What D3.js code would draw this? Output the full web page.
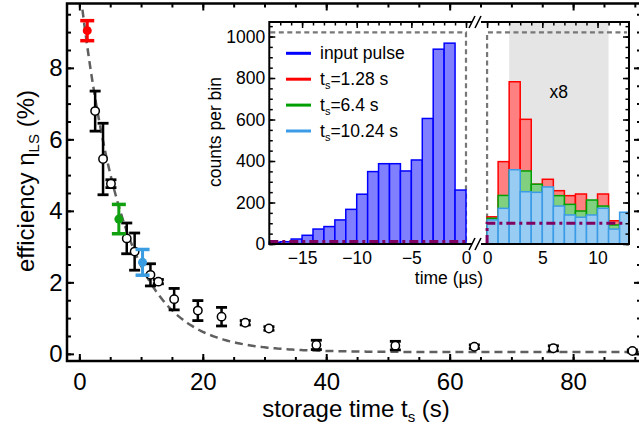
<!DOCTYPE html>
<html>
<head>
<meta charset="utf-8">
<script src="https://cdn.jsdelivr.net/npm/d3@7"></script>
<style>
  body { margin: 0; background: #fff; }
  svg { display: block; font-family: "Liberation Sans", Arial, sans-serif; }
</style>
</head>
<body>
<svg id="chart" width="639" height="430"></svg>
<script>
// ---- main panel: retrieval efficiency vs storage time ----
const storageTimes  = [2.56, 3.84, 5.12, 7.68, 8.96, 11.52, 12.8, 15.36, 19.2, 23.04, 26.88, 30.72, 38.4, 51.2, 64, 76.8, 89.6];
const efficiency    = [6.79, 5.45, 4.76, 3.23, 2.86, 2.21, 2.02, 1.53, 1.21, 1.04, 0.87, 0.71, 0.25, 0.23, 0.20, 0.155, 0.08];
const efficiencyErr = [0.56, 1.00, 0.11, 0.43, 0.52, 0.31, 0.06, 0.30, 0.28, 0.26, 0.06, 0.05, 0.13, 0.12, 0.05, 0.07, 0.03];

// storage times whose time traces are shown in the inset
const markedTimes      = [1.28, 6.4, 10.24];
const markedEfficiency = [9.04, 3.77, 2.56];
const markedErr        = [0.28, 0.41, 0.36];

// exponential decay fit: A * exp(-t / tau) + offset
const fitAmplitude = 10.3;
const fitTau = 6.9;
const fitOffset = 0.05;

const xTickValues = [0, 20, 40, 60, 80];
const yTickValues = [0, 2, 4, 6, 8];

// ---- inset: photon arrival-time histograms ----
const inputBinStarts = [-18, -17, -16, -15, -14, -13, -12, -11, -10, -9, -8, -7, -6, -5, -4, -3, -2, -1];
const inputCounts    = [8, 11, 24, 42, 72, 84, 116, 167, 240, 349, 387, 387, 352, 405, 605, 939, 968, 260];

const retrievedBinStarts = [0, 1, 2, 3, 4, 5, 6, 7, 8, 9, 10, 11, 12];
const counts128  = [131, 397, 782, 601, 288, 312, 257, 233, 241, 205, 241, 112, 100];
const counts64   = [124, 234, 350, 352, 288, 270, 233, 191, 159, 212, 183, 92, 110];
const counts1024 = [116, 172, 358, 252, 249, 275, 183, 140, 129, 140, 172, 72, 153];

const backgroundLevel = 12.5;      // dark-count level, input side
const backgroundScaled = 100;      // same level, scaled x8
const windowLevel = 1020;          // dashed reference window height
const scaledWindow = [2, 11];      // interval scaled by 8
const scaleLabel = "x8";

const insetYTicks = [0, 200, 400, 600, 800, 1000];
const inputTimeTicks = [-15, -10, -5, 0];
const retrievedTimeTicks = [0, 5, 10];

const legendNames = [["input pulse", null, null], ["t", "s", "=1.28 s"], ["t", "s", "=6.4 s"], ["t", "s", "=10.24 s"]];

const colors = {
  input: "#0000ff", inputFill: "#8080ff",
  red: "#ff0000", redFill: "#ff8080",
  green: "#00a000", greenFill: "#80d080",
  blue: "#3b9be6", blueFill: "#99ccf2",
  markRed: "#ff0000", markGreen: "#10a010", markBlue: "#3a9de2",
  bg: "#800060", dashed: "#777777"
};

const svg = d3.select("#chart");

// ================= main panel =================
const x = d3.scaleLinear().domain([-2, 91]).range([67, 641]);
const y = d3.scaleLinear().domain([-0.2, 9.8]).range([361, 3.5]);

const main = svg.append("g");

// fit curve
const fitT = d3.range(-2, 91.01, 0.25);
const fitLine = d3.line()
  .x(t => x(t))
  .y(t => y(fitAmplitude * Math.exp(-t / fitTau) + fitOffset));
main.append("path")
  .datum(fitT.filter(t => fitAmplitude * Math.exp(-t / fitTau) + fitOffset <= 9.8))
  .attr("d", fitLine)
  .attr("fill", "none")
  .attr("stroke", "#5f5f5f")
  .attr("stroke-width", 2.5)
  .attr("stroke-dasharray", "8,5");

// axes (ticks pointing inward)
function styleAxis(g, width) {
  g.select(".domain").remove();
  g.selectAll(".tick line").attr("stroke", "#000").attr("stroke-width", width);
}
const minorX = d3.range(-0, 91, 5);
const minorY = d3.range(0, 9.8, 0.5);

main.append("g").attr("transform", "translate(0,361)")
  .call(d3.axisBottom(x).tickValues(minorX).tickSize(-4).tickFormat(""))
  .call(g => styleAxis(g, 2));
main.append("g").attr("transform", "translate(0,361)")
  .call(d3.axisBottom(x).tickValues(xTickValues).tickSize(-7).tickPadding(12).tickFormat(d3.format("d")))
  .call(g => styleAxis(g, 2))
  .call(g => g.selectAll("text").attr("font-size", 24).attr("fill", "#000").attr("font-family", "Liberation Sans, Arial"));
main.append("g").attr("transform", "translate(0,3.5)")
  .call(d3.axisTop(x).tickValues(minorX).tickSize(-4).tickFormat(""))
  .call(g => styleAxis(g, 2));
main.append("g").attr("transform", "translate(0,3.5)")
  .call(d3.axisTop(x).tickValues(xTickValues).tickSize(-7).tickFormat(""))
  .call(g => styleAxis(g, 2));

main.append("g").attr("transform", "translate(67,0)")
  .call(d3.axisLeft(y).tickValues(minorY).tickSize(-4).tickFormat(""))
  .call(g => styleAxis(g, 2));
main.append("g").attr("transform", "translate(67,0)")
  .call(d3.axisLeft(y).tickValues(yTickValues).tickSize(-7).tickPadding(4.5).tickFormat(d3.format("d")))
  .call(g => styleAxis(g, 2))
  .call(g => g.selectAll("text").attr("font-size", 24).attr("fill", "#000").attr("font-family", "Liberation Sans, Arial"));
main.append("g").attr("transform", "translate(641,0)")
  .call(d3.axisRight(y).tickValues(minorY).tickSize(-4).tickFormat(""))
  .call(g => styleAxis(g, 2));
main.append("g").attr("transform", "translate(641,0)")
  .call(d3.axisRight(y).tickValues(yTickValues).tickSize(-7).tickFormat(""))
  .call(g => styleAxis(g, 2));

main.append("rect")
  .attr("x", 67).attr("y", 3.5).attr("width", 574).attr("height", 357.5)
  .attr("fill", "none").attr("stroke", "#000").attr("stroke-width", 2.5);

// axis titles
const xTitle = main.append("text")
  .attr("x", 356).attr("y", 417).attr("text-anchor", "middle")
  .attr("font-size", 24).attr("fill", "#000");
xTitle.append("tspan").text("storage time t");
xTitle.append("tspan").attr("font-size", 15).attr("dy", 5).text("s");
xTitle.append("tspan").attr("dy", -5).text(" (s)");

const yTitle = main.append("text")
  .attr("transform", "translate(33.5,181) rotate(-90)")
  .attr("text-anchor", "middle").attr("font-size", 24).attr("fill", "#000");
yTitle.append("tspan").text("efficiency η");
yTitle.append("tspan").attr("font-size", 15).attr("dy", 5).text("LS");
yTitle.append("tspan").attr("dy", -5).text(" (%)");

// measured points with error bars
const pts = storageTimes.map((t, i) => ({ t, v: efficiency[i], e: efficiencyErr[i] }));
const eb = main.append("g").attr("stroke", "#000");
eb.selectAll(".v").data(pts).join("line")
  .attr("x1", d => x(d.t)).attr("x2", d => x(d.t))
  .attr("y1", d => y(d.v + d.e)).attr("y2", d => y(d.v - d.e))
  .attr("stroke-width", 2.5);
eb.selectAll(".ct").data(pts).join("line")
  .attr("x1", d => x(d.t) - 5.5).attr("x2", d => x(d.t) + 5.5)
  .attr("y1", d => y(d.v + d.e)).attr("y2", d => y(d.v + d.e))
  .attr("stroke-width", 2.8);
eb.selectAll(".cb").data(pts).join("line")
  .attr("x1", d => x(d.t) - 5.5).attr("x2", d => x(d.t) + 5.5)
  .attr("y1", d => y(d.v - d.e)).attr("y2", d => y(d.v - d.e))
  .attr("stroke-width", 2.8);
main.append("g").selectAll("circle").data(pts).join("circle")
  .attr("cx", d => x(d.t)).attr("cy", d => y(d.v)).attr("r", 4.2)
  .attr("fill", "#fff").attr("stroke", "#000").attr("stroke-width", 1.5);

const marked = markedTimes.map((t, i) => ({ t, v: markedEfficiency[i], e: markedErr[i],
  c: [colors.markRed, colors.markGreen, colors.markBlue][i] }));
const mg = main.append("g");
marked.forEach(d => {
  mg.append("line").attr("x1", x(d.t)).attr("x2", x(d.t))
    .attr("y1", y(d.v + d.e)).attr("y2", y(d.v - d.e))
    .attr("stroke", d.c).attr("stroke-width", 3);
  [d.v + d.e, d.v - d.e].forEach(v => {
    mg.append("line").attr("x1", x(d.t) - 7).attr("x2", x(d.t) + 7)
      .attr("y1", y(v)).attr("y2", y(v))
      .attr("stroke", d.c).attr("stroke-width", 3.5);
  });
  mg.append("circle").attr("cx", x(d.t)).attr("cy", y(d.v)).attr("r", 4.5).attr("fill", d.c);
});

// ================= inset =================
const iTop = 22, iBottom = 244;
const yI = d3.scaleLinear().domain([0, 1070]).range([iBottom, iTop]);
const xL = d3.scaleLinear().domain([-18, 0.55]).range([269.3, 472]);
const xR = d3.scaleLinear().domain([-0.55, 12.85]).range([481, 629]);

const inset = svg.append("g");
inset.append("rect").attr("x", 269.3).attr("y", iTop).attr("width", 629 - 269.3).attr("height", iBottom - iTop)
  .attr("fill", "#fff");

// scaled interval shading
inset.append("rect")
  .attr("x", xR(scaledWindow[0])).attr("y", iTop)
  .attr("width", xR(scaledWindow[1]) - xR(scaledWindow[0])).attr("height", iBottom - iTop)
  .attr("fill", "#e5e5e5");
inset.append("text").attr("x", (xR(scaledWindow[0]) + xR(scaledWindow[1])) / 2).attr("y", 97.5)
  .attr("text-anchor", "middle").attr("font-size", 17.5).attr("fill", "#000").text(scaleLabel);

// dashed reference window
const dashAttr = g => g.attr("fill", "none").attr("stroke", colors.dashed).attr("stroke-width", 2.2).attr("stroke-dasharray", "5,3.5");
inset.append("path")
  .attr("d", `M${xL(-18) + 1},${yI(windowLevel)}H${xL(0)}V${yI(0)}`).call(dashAttr);
inset.append("path")
  .attr("d", `M${xR(0)},${yI(0)}V${yI(windowLevel)}H${xR(12.85) - 2}`).call(dashAttr);

// histogram bars
function bars(scale, starts, values, fill, stroke) {
  inset.append("g").selectAll("rect").data(starts.map((s, i) => ({ s, v: values[i] }))).join("rect")
    .attr("x", d => scale(d.s))
    .attr("y", d => yI(d.v))
    .attr("width", d => Math.min(scale(d.s + 1), scale.range()[1]) - scale(d.s))
    .attr("height", d => yI(0) - yI(d.v))
    .attr("fill", fill).attr("stroke", stroke).attr("stroke-width", 1.5);
}
bars(xL, inputBinStarts, inputCounts, colors.inputFill, colors.input);
bars(xR, retrievedBinStarts, counts128, colors.redFill, colors.red);
bars(xR, retrievedBinStarts, counts64, colors.greenFill, colors.green);
bars(xR, retrievedBinStarts, counts1024, colors.blueFill, colors.blue);

// background level (dash-dot)
const bgAttr = g => g.attr("fill", "none").attr("stroke", colors.bg).attr("stroke-width", 3).attr("stroke-dasharray", "9,4,3,4");
inset.append("path").attr("d", `M${xL(-18)},${yI(backgroundLevel)}H${xL(0)}`).call(bgAttr);
inset.append("path").attr("d", `M${xR(0)},${yI(0)}V${yI(backgroundScaled)}H${xR(12.4)}`).call(bgAttr);

// inset axes
const minorCounts = d3.range(0, 1070, 50);
inset.append("g").attr("transform", "translate(269.3,0)")
  .call(d3.axisLeft(yI).tickValues(minorCounts).tickSize(-3.5).tickFormat(""))
  .call(g => styleAxis(g, 1.5));
inset.append("g").attr("transform", "translate(269.3,0)")
  .call(d3.axisLeft(yI).tickValues(insetYTicks).tickSize(-6).tickPadding(4).tickFormat(d3.format("d")))
  .call(g => styleAxis(g, 1.5))
  .call(g => g.selectAll("text").attr("font-size", 17.5).attr("fill", "#000").attr("font-family", "Liberation Sans, Arial"));
inset.append("g").attr("transform", "translate(629,0)")
  .call(d3.axisRight(yI).tickValues(minorCounts).tickSize(-3.5).tickFormat(""))
  .call(g => styleAxis(g, 1.5));
inset.append("g").attr("transform", "translate(629,0)")
  .call(d3.axisRight(yI).tickValues(insetYTicks).tickSize(-6).tickFormat(""))
  .call(g => styleAxis(g, 1.5));

const minorL = d3.range(-17, 1, 1), minorR = d3.range(0, 13, 1);
[[xL, minorL, inputTimeTicks], [xR, minorR, retrievedTimeTicks]].forEach(([sc, minor, major]) => {
  inset.append("g").attr("transform", `translate(0,${iTop})`)
    .call(d3.axisTop(sc).tickValues(minor).tickSize(-3.5).tickFormat(""))
    .call(g => styleAxis(g, 1.5));
  inset.append("g").attr("transform", `translate(0,${iTop})`)
    .call(d3.axisTop(sc).tickValues(major).tickSize(-6).tickFormat(""))
    .call(g => styleAxis(g, 1.5));
  inset.append("g").attr("transform", `translate(0,${iBottom})`)
    .call(d3.axisBottom(sc).tickValues(major).tickSize(0).tickPadding(7.7).tickFormat(d3.format("d")))
    .call(g => styleAxis(g, 1.5))
    .call(g => g.selectAll("text").attr("font-size", 17.5).attr("fill", "#000").attr("font-family", "Liberation Sans, Arial"));
});

// frame with axis break
const frame = inset.append("g").attr("fill", "none").attr("stroke", "#000").attr("stroke-width", 2);
frame.append("path").attr("d", `M472,${iTop}H269.3V${iBottom}H472`);
frame.append("path").attr("d", `M481,${iTop}H629V${iBottom}H481`);
[iTop, iBottom].forEach(yy => {
  frame.append("path").attr("d", `M469,${yy + 6}L475,${yy - 6}M475,${yy + 6}L481,${yy - 6}`).attr("stroke-width", 1.6);
});

// inset axis titles
inset.append("text").attr("transform", "translate(220.5,132) rotate(-90)")
  .attr("text-anchor", "middle").attr("font-size", 17.5).attr("fill", "#000").text("counts per bin");
inset.append("text").attr("x", 449).attr("y", 284)
  .attr("text-anchor", "middle").attr("font-size", 17.5).attr("fill", "#000").text("time (µs)");

// legend
const legendColors = [colors.input, colors.red, colors.green, colors.blue];
legendNames.forEach((n, i) => {
  const ly = 53.3 + i * 25.9;
  inset.append("line").attr("x1", 286).attr("x2", 311).attr("y1", ly).attr("y2", ly)
    .attr("stroke", legendColors[i]).attr("stroke-width", 3);
  const t = inset.append("text").attr("x", 320).attr("y", ly + 5.5)
    .attr("font-size", 17.5).attr("fill", "#000");
  t.append("tspan").text(n[0]);
  if (n[1]) {
    t.append("tspan").attr("font-size", 11).attr("dy", 4).text(n[1]);
    t.append("tspan").attr("dy", -4).text(n[2]);
  }
});
</script>
</body>
</html>
